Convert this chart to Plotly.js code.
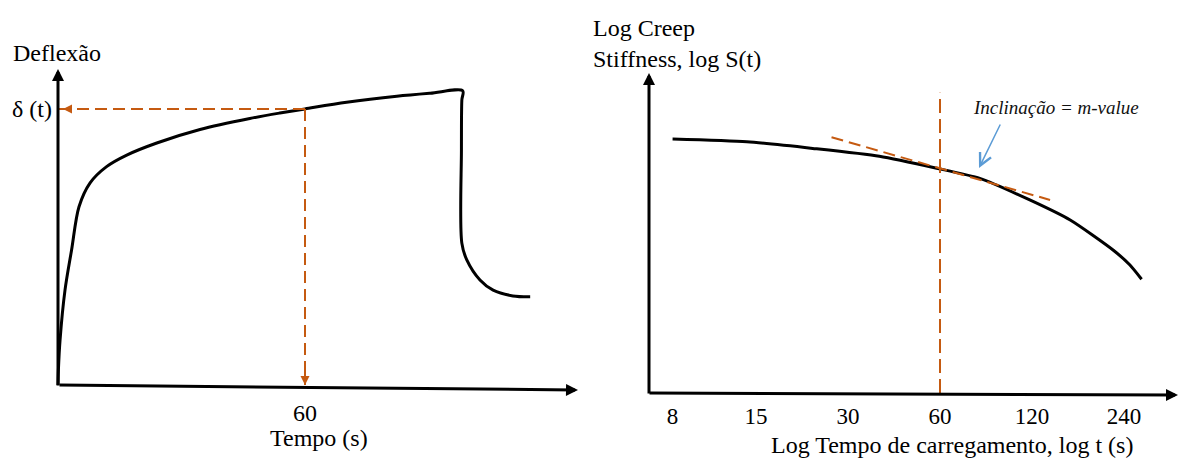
<!DOCTYPE html>
<html>
<head>
<meta charset="utf-8">
<script src="https://cdn.plot.ly/plotly-3.0.1.min.js"></script>
<style>html,body{margin:0;padding:0;background:#fff;}#chart{width:1179px;height:459px;}</style>
</head>
<body>
<div id="chart"></div>
<script>
// ---------- data (schematic values) ----------
// Left panel: deflection (arbitrary units) vs time (s)
const creepTime = [0, 0.1, 0.5, 1.7, 3.3, 5.1, 7.8, 11.8, 16.7, 24.0, 34.5, 46.6, 53.9, 60, 70.1, 82.3, 90.4, 98.3, 98.1, 98.0, 98.1, 99.3, 102.5, 105.7, 110.5, 114.7];
const creepDefl = [0, 5.5, 16.4, 34.5, 49.1, 64.8, 73.5, 79.4, 83.6, 88.0, 92.9, 96.9, 98.9, 100.4, 102.8, 105.0, 106.1, 107.0, 103.6, 85.5, 51.6, 45.5, 38.2, 34.5, 32.4, 32.1];
const readTime = 60;          // s
const deflAtRead = 100.4;     // deflection at 60 s
const leftTickVals = [readTime];
const leftTickText = ['60'];

// Right panel: log creep stiffness (arbitrary units) vs loading time (s, log axis)
const stiffTime = [8, 14, 23, 38, 58.5, 81, 118, 160, 221, 251, 274];
const stiffVal  = [100, 98.9, 96.3, 93.2, 88.5, 84.5, 76.0, 68.1, 56.3, 50.4, 44.8];
const slopeTime = [26.5, 137.5];
const slopeVal  = [100.7, 76.0];
const markTime  = [60, 60];
const markVal   = [0, 118.2];
const rightTickVals = [8, 15, 30, 60, 120, 240];
const rightTickText = ['8', '15', '30', '60', '120', '240'];

// ---------- styling / layout ----------
const W = 1179, H = 459;
const px = p => p / W;
const py = p => 1 - p / H;
const FONT = 'Liberation Serif, Times New Roman, serif';
const ORANGE = '#C55A11';
const BLACK = '#000000';

const traces = [
  {x: creepTime, y: creepDefl, xaxis: 'x', yaxis: 'y', mode: 'lines',
   line: {color: BLACK, width: 3, shape: 'spline', smoothing: 0.9}, hoverinfo: 'skip', showlegend: false},
  {x: [readTime, 0], y: [deflAtRead, deflAtRead], xaxis: 'x', yaxis: 'y', mode: 'lines',
   line: {color: ORANGE, width: 2, dash: '12px,6px'}, hoverinfo: 'skip', showlegend: false},
  {x: [readTime, readTime], y: [deflAtRead, 0], xaxis: 'x', yaxis: 'y', mode: 'lines',
   line: {color: ORANGE, width: 2, dash: '12px,6px'}, hoverinfo: 'skip', showlegend: false},
  {x: stiffTime, y: stiffVal, xaxis: 'x2', yaxis: 'y2', mode: 'lines',
   line: {color: BLACK, width: 3, shape: 'spline', smoothing: 0.6}, hoverinfo: 'skip', showlegend: false},
  {x: slopeTime, y: slopeVal, xaxis: 'x2', yaxis: 'y2', mode: 'lines',
   line: {color: ORANGE, width: 2, dash: '12px,6px'}, hoverinfo: 'skip', showlegend: false},
  {x: markTime, y: markVal, xaxis: 'x2', yaxis: 'y2', mode: 'lines',
   line: {color: ORANGE, width: 2, dash: '14px,6px'}, hoverinfo: 'skip', showlegend: false}
];

// left panel scale: origin at pixel (58,385), 60 s at x=305, 2.75 px per deflection unit
const lx0 = 58, lsx = 247 / 60, ly0 = 385, lsy = 2.75;
// right panel: 60 s at x=940, 92 px per doubling; s origin at y=393, 2.54 px per unit
const r60 = 940, rDbl = 92, ry0 = 393, rsy = 2.54;
const rlog = p => Math.log10(60) + (p - r60) / rDbl * Math.log10(2);

const tickFont = {family: FONT, size: 24, color: BLACK};

const layout = {
  width: W, height: H,
  margin: {l: 0, r: 0, t: 0, b: 0},
  paper_bgcolor: '#ffffff', plot_bgcolor: 'rgba(0,0,0,0)',
  font: {family: FONT, color: BLACK},
  showlegend: false,
  xaxis: {domain: [0, 0.5], range: [(0 - lx0) / lsx, (W / 2 - lx0) / lsx],
    anchor: 'free', position: py(388), showgrid: false, zeroline: false, showline: false,
    tickmode: 'array', tickvals: leftTickVals, ticktext: leftTickText, ticks: '',
    tickfont: tickFont, ticklabelstandoff: 8, automargin: false, fixedrange: true},
  yaxis: {domain: [0, 1], range: [(ly0 - H) / lsy, ly0 / lsy],
    anchor: 'free', position: px(58), showgrid: false, zeroline: false, showline: false,
    tickmode: 'array', tickvals: [deflAtRead], ticktext: ['δ (t)'], ticks: '',
    tickfont: tickFont, ticklabelstandoff: 6, automargin: false, fixedrange: true},
  xaxis2: {domain: [0.5, 1], type: 'log', range: [rlog(W / 2), rlog(W)],
    anchor: 'free', position: py(394), showgrid: false, zeroline: false, showline: false,
    tickmode: 'array', tickvals: rightTickVals, ticktext: rightTickText, ticks: '',
    tickfont: {family: FONT, size: 23, color: BLACK}, ticklabelstandoff: 6, automargin: false, fixedrange: true},
  yaxis2: {domain: [0, 1], range: [(ry0 - H) / rsy, ry0 / rsy],
    anchor: 'free', position: px(649), showgrid: false, zeroline: false, showline: false,
    showticklabels: false, ticks: '', automargin: false, fixedrange: true},
  annotations: [
    // axis arrows
    {xref: 'paper', yref: 'paper', x: px(578), y: py(390), ax: -520, ay: -5, text: '', showarrow: true,
     arrowhead: 2, arrowsize: 0.8, arrowwidth: 3, arrowcolor: BLACK},
    {xref: 'paper', yref: 'paper', x: px(58), y: py(69), ax: 0, ay: 318, text: '', showarrow: true,
     arrowhead: 2, arrowsize: 0.8, arrowwidth: 3, arrowcolor: BLACK},
    {xref: 'paper', yref: 'paper', x: px(1178), y: py(395), ax: -530, ay: -2, text: '', showarrow: true,
     arrowhead: 2, arrowsize: 0.8, arrowwidth: 3, arrowcolor: BLACK},
    {xref: 'paper', yref: 'paper', x: px(649), y: py(73), ax: 0, ay: 322, text: '', showarrow: true,
     arrowhead: 2, arrowsize: 0.8, arrowwidth: 3, arrowcolor: BLACK},
    // dashed reading arrows heads
    {xref: 'x', yref: 'y', x: 0, y: deflAtRead, ax: 14, ay: 0, standoff: 5, text: '', showarrow: true,
     arrowhead: 2, arrowsize: 0.9, arrowwidth: 2, arrowcolor: ORANGE},
    {xref: 'x', yref: 'y', x: readTime, y: 0, ax: 0, ay: -14, standoff: 0, text: '', showarrow: true,
     arrowhead: 2, arrowsize: 0.9, arrowwidth: 2, arrowcolor: ORANGE},
    // texts
    {xref: 'paper', yref: 'paper', x: px(11), y: py(53), xanchor: 'left', yanchor: 'middle', showarrow: false,
     text: 'Deflexão', font: {family: FONT, size: 24, color: BLACK}},
    {xref: 'paper', yref: 'paper', x: px(319), y: py(438), xanchor: 'center', yanchor: 'middle', showarrow: false,
     text: 'Tempo (s)', font: {family: FONT, size: 24, color: BLACK}},
    {xref: 'paper', yref: 'paper', x: px(591), y: py(43), xanchor: 'left', yanchor: 'middle', showarrow: false,
     align: 'left', text: 'Log Creep<br>Stiffness, log S(t)', font: {family: FONT, size: 24, color: BLACK}},
    {xref: 'paper', yref: 'paper', x: px(952), y: py(459), xanchor: 'center', yanchor: 'bottom', showarrow: false,
     borderpad: 0, text: 'Log Tempo de carregamento, log t (s)', font: {family: FONT, size: 24, color: BLACK}},
    {xref: 'paper', yref: 'paper', x: px(1056), y: py(107), xanchor: 'center', yanchor: 'middle', showarrow: false,
     text: '<i>Inclinação = m-value</i>', font: {family: FONT, size: 19, color: '#111111'}},
    {xref: 'paper', yref: 'paper', x: px(979), y: py(168), ax: 22, ay: -45, text: '', showarrow: true,
     arrowhead: 5, arrowsize: 1.6, arrowwidth: 1.5, arrowcolor: '#5B9BD5'}
  ]
};

Plotly.newPlot('chart', traces, layout, {staticPlot: true, displayModeBar: false});
</script>
</body>
</html>
